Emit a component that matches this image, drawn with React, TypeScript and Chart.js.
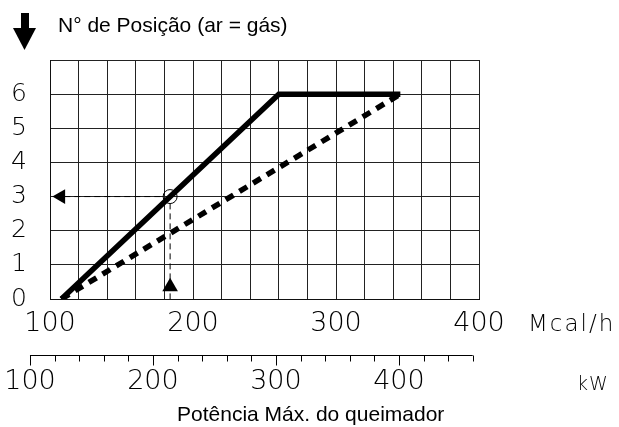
import React, { useEffect, useRef } from 'react';
import { Chart, registerables } from 'chart.js';

Chart.register(...registerables);

// ---- data ----
const positionLabels = [0, 1, 2, 3, 4, 5, 6];
const mcalLabels = [100, 200, 300, 400];
const solidLine = [
  { x: 108, y: 0 },
  { x: 260, y: 6 },
  { x: 345, y: 6 },
];
const dashedLine = [
  { x: 108, y: 0 },
  { x: 345, y: 6 },
];
const examplePoint = { x: 184, y: 3 };
const kwTicks = [100, 120, 140, 160, 180, 200, 220, 240, 260, 280, 300, 320, 340, 360, 380, 400, 420, 440, 460];
const kwLabels = [100, 200, 300, 400];
const KW_TO_MCAL = 0.86;

const titleText = 'N° de Posição (ar = gás)';
const mcalUnit = 'Mcal/h';
const kwUnit = 'kW';
const xTitle = 'Potência Máx. do queimador';

const DIGIT_FONT = '"DejaVu Sans", sans-serif';
const DIGIT_WEIGHT = '200';

const decorPlugin = {
  id: 'decor',
  afterDraw(chart: any) {
    const ctx = chart.ctx as CanvasRenderingContext2D;
    const xs = chart.scales.x;
    ctx.save();
    ctx.fillStyle = '#000';
    ctx.strokeStyle = '#000';

    // down arrow
    ctx.fillRect(21, 13, 8, 16);
    ctx.beginPath();
    ctx.moveTo(13, 28);
    ctx.lineTo(36, 28);
    ctx.lineTo(24.5, 50);
    ctx.closePath();
    ctx.fill();

    // title
    ctx.font = '21px "Liberation Sans", Arial, sans-serif';
    ctx.textAlign = 'left';
    ctx.textBaseline = 'alphabetic';
    ctx.fillText(titleText, 58, 32);

    // Mcal/h unit
    ctx.font = DIGIT_WEIGHT + ' 23px ' + DIGIT_FONT;
    (ctx as any).letterSpacing = '2px';
    ctx.fillText(mcalUnit, 528, 331);

    // kW unit
    ctx.font = DIGIT_WEIGHT + ' 19px ' + DIGIT_FONT;
    (ctx as any).letterSpacing = '1px';
    ctx.fillText(kwUnit, 577, 390);
    (ctx as any).letterSpacing = '0px';

    // kW axis
    const axisY = 355.5;
    const x0 = xs.getPixelForValue(kwTicks[0] * KW_TO_MCAL);
    const x1 = xs.getPixelForValue(kwTicks[kwTicks.length - 1] * KW_TO_MCAL);
    ctx.lineWidth = 1;
    ctx.beginPath();
    ctx.moveTo(x0, axisY);
    ctx.lineTo(x1, axisY);
    kwTicks.forEach((k) => {
      const px = Math.round(xs.getPixelForValue(k * KW_TO_MCAL)) + 0.5;
      const len = kwLabels.includes(k) ? 10 : 6;
      ctx.moveTo(px, axisY);
      ctx.lineTo(px, axisY + len);
    });
    ctx.stroke();

    ctx.font = DIGIT_WEIGHT + ' 27px ' + DIGIT_FONT;
    ctx.textAlign = 'center';
    ctx.textBaseline = 'middle';
    kwLabels.forEach((k) => {
      ctx.fillText(String(k), xs.getPixelForValue(k * KW_TO_MCAL), 382);
    });

    // x title
    ctx.font = '21px "Liberation Sans", Arial, sans-serif';
    ctx.textAlign = 'left';
    ctx.textBaseline = 'alphabetic';
    ctx.fillText(xTitle, 177, 421);
    ctx.restore();
  },
};

export default function App() {
  const ref = useRef<HTMLCanvasElement | null>(null);

  useEffect(() => {
    if (!ref.current) return;
    const chart = new Chart(ref.current, {
      type: 'scatter',
      data: {
        datasets: [
          {
            label: 'solid',
            data: solidLine,
            showLine: true,
            borderColor: '#000',
            borderWidth: 5.5,
            pointRadius: 0,
            borderJoinStyle: 'miter',
          },
          {
            label: 'dashed',
            data: dashedLine,
            showLine: true,
            borderColor: '#000',
            borderWidth: 5.5,
            borderDash: [9, 7],
            pointRadius: 0,
          },
          {
            label: 'guideH',
            data: [
              { x: 110, y: examplePoint.y },
              { x: examplePoint.x - 5, y: examplePoint.y },
            ],
            showLine: true,
            borderColor: '#000',
            borderWidth: 1,
            borderDash: [6, 4],
            pointRadius: 0,
          },
          {
            label: 'guideV',
            data: [
              { x: examplePoint.x, y: examplePoint.y - 0.2 },
              { x: examplePoint.x, y: 0 },
            ],
            showLine: true,
            borderColor: '#000',
            borderWidth: 1,
            borderDash: [6, 4],
            pointRadius: 0,
          },
          {
            label: 'circle',
            data: [examplePoint],
            pointStyle: 'circle',
            pointRadius: 7,
            pointBorderWidth: 1,
            pointBorderColor: '#000',
            pointBackgroundColor: 'rgba(0,0,0,0)',
          },
          {
            label: 'arrowLeft',
            data: [{ x: 107.6, y: examplePoint.y }],
            pointStyle: 'triangle',
            rotation: -90,
            pointRadius: 8.5,
            pointBorderWidth: 0,
            pointBackgroundColor: '#000',
            pointBorderColor: '#000',
          },
          {
            label: 'arrowUp',
            data: [{ x: examplePoint.x, y: 0.36 }],
            pointStyle: 'triangle',
            pointRadius: 9,
            pointBorderWidth: 0,
            pointBackgroundColor: '#000',
            pointBorderColor: '#000',
          },
        ],
      },
      options: {
        responsive: false,
        animation: false,
        events: [],
        layout: {
          autoPadding: false,
          padding: { left: 0, top: 60, right: 140, bottom: 88 },
        },
        plugins: {
          legend: { display: false },
          tooltip: { enabled: false },
          title: { display: false },
        },
        scales: {
          x: {
            type: 'linear',
            min: 100,
            max: 400,
            afterFit: (s: any) => {
              s.height = 40;
            },
            border: { color: '#111', width: 1 },
            grid: { color: '#222', lineWidth: 1, drawTicks: false },
            ticks: {
              stepSize: 20,
              autoSkip: false,
              maxRotation: 0,
              padding: 9,
              color: '#000',
              font: { family: DIGIT_FONT, size: 27, weight: DIGIT_WEIGHT as any },
              callback: (v: any) => (mcalLabels.includes(Number(v)) ? String(v) : ''),
            },
          },
          y: {
            type: 'linear',
            min: 0,
            max: 7,
            afterFit: (s: any) => {
              s.width = 50;
            },
            border: { color: '#111', width: 1 },
            grid: { color: '#222', lineWidth: 1, drawTicks: false },
            ticks: {
              stepSize: 1,
              autoSkip: false,
              padding: 23,
              color: '#000',
              font: { family: DIGIT_FONT, size: 25, weight: DIGIT_WEIGHT as any },
              callback: (v: any) => (positionLabels.includes(Number(v)) ? String(v) : ''),
            },
          },
        },
      },
      plugins: [decorPlugin],
    });
    return () => chart.destroy();
  }, []);

  return (
    <div style={{ position: 'fixed', left: 0, top: 0, width: 619, height: 427, background: '#fff' }}>
      <canvas ref={ref} width={619} height={427} />
    </div>
  );
}
